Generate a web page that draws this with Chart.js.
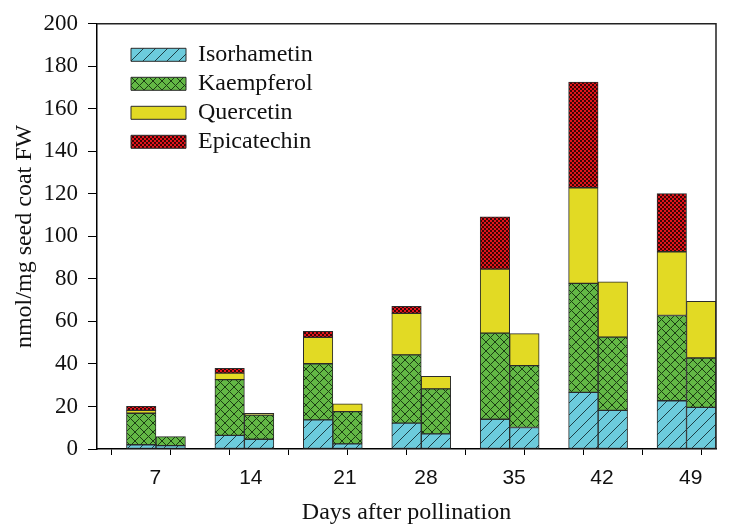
<!DOCTYPE html>
<html><head><meta charset="utf-8">
<script src="https://cdn.jsdelivr.net/npm/chart.js@4.4.1/dist/chart.umd.min.js"></script>
<style>html,body{margin:0;padding:0;background:#fff}#wrap{width:742px;height:527px}</style>
</head><body><div id="wrap"><canvas id="c" width="742" height="527"></canvas></div>
<script>
// ---- data ----
const days = ['7', '14', '21', '28', '35', '42', '49'];
const compounds = ['Isorhametin', 'Kaempferol', 'Quercetin', 'Epicatechin'];
// first bar of each pair
const isoA  = [2.0, 6.4, 13.7, 12.2, 14.0, 26.6, 22.7];
const kaemA = [14.8, 26.2, 26.4, 32.1, 40.5, 51.3, 40.1];
const querA = [1.4, 3.1, 12.4, 19.5, 30.1, 45.0, 30.0];
const epiA  = [1.9, 2.3, 2.8, 3.3, 24.6, 49.7, 27.3];
// second bar of each pair
const isoB  = [1.6, 4.6, 2.4, 7.1, 10.1, 18.2, 19.6];
const kaemB = [4.2, 11.3, 15.2, 21.2, 29.1, 34.4, 23.2];
const querB = [0, 0.9, 3.6, 5.9, 15.1, 26.0, 26.7];
// empty leading slot in each group
const spacer = [0, 0, 0, 0, 0, 0, 0];

// ---- patterns ----
const mainCtx = document.getElementById('c').getContext('2d');
function makePattern(size, draw) {
  const c = document.createElement('canvas');
  c.width = size; c.height = size;
  const g = c.getContext('2d');
  draw(g, size);
  return mainCtx.createPattern(c, 'repeat');
}
const isoPat = makePattern(12, (g, s) => {
  g.fillStyle = '#6ccbdc'; g.fillRect(0, 0, s, s);
  g.strokeStyle = '#1d3f46'; g.lineWidth = 1;
  g.beginPath();
  g.moveTo(0, s); g.lineTo(s, 0);
  g.moveTo(-1, 1); g.lineTo(1, -1);
  g.moveTo(s - 1, s + 1); g.lineTo(s + 1, s - 1);
  g.stroke();
});
const kaemPat = makePattern(9, (g, s) => {
  g.fillStyle = '#63b845'; g.fillRect(0, 0, s, s);
  g.strokeStyle = '#1b3d13'; g.lineWidth = 1;
  g.beginPath();
  g.moveTo(0, 0); g.lineTo(s, s);
  g.moveTo(0, s); g.lineTo(s, 0);
  g.stroke();
});
const querFill = '#e2da24';
const epiPat = makePattern(4, (g, s) => {
  g.fillStyle = '#e3141b'; g.fillRect(0, 0, s, s);
  g.fillStyle = '#3a0606';
  g.fillRect(0, 0, 2, 2); g.fillRect(2, 2, 2, 2);
});

function ds(label, data, stack, bg) {
  return { label, data, stack, backgroundColor: bg, borderColor: '#2b2b2b',
           borderWidth: 1, borderSkipped: false, xAxisID: 'x', yAxisID: 'y' };
}

const tickSlots = [0.5, 2.5, 4.5, 6.5, 8.5, 10.5, 12.5, 14.5, 16.5, 18.5, 20.5];
const labelAt = [1.98, 5.22, 8.41, 11.16, 14.15, 17.13, 20.14];

const legendShift = {
  id: 'legendShift',
  afterLayout(chart) {
    const lg = chart.legend, ca = chart.chartArea;
    if (!lg) return;
    lg.left = ca.left + 29; lg.top = ca.top + 14;
    lg.right = ca.right; lg.bottom = ca.bottom;
    lg.width = lg.right - lg.left; lg.height = lg.bottom - lg.top;
  }
};
const frame = {
  id: 'frame',
  afterDraw(chart) {
    const { ctx, chartArea: a } = chart;
    ctx.save();
    ctx.strokeStyle = '#222'; ctx.lineWidth = 1.5;
    ctx.beginPath();
    ctx.moveTo(a.left, a.top); ctx.lineTo(a.right, a.top); ctx.lineTo(a.right, a.bottom);
    ctx.stroke();
    ctx.restore();
  }
};

new Chart(mainCtx, {
  type: 'bar',
  data: {
    labels: days,
    datasets: [
      { label: '', data: spacer, stack: 's0', backgroundColor: 'rgba(0,0,0,0)', borderWidth: 0, xAxisID: 'x', yAxisID: 'y' },
      ds(compounds[0], isoA, 'a', isoPat),
      ds(compounds[1], kaemA, 'a', kaemPat),
      ds(compounds[2], querA, 'a', querFill),
      ds(compounds[3], epiA, 'a', epiPat),
      ds(compounds[0], isoB, 'b', isoPat),
      ds(compounds[1], kaemB, 'b', kaemPat),
      ds(compounds[2], querB, 'b', querFill)
    ]
  },
  options: {
    responsive: false,
    animation: false,
    devicePixelRatio: 1,
    layout: { padding: { top: 18, right: 26, left: 0, bottom: 0 } },
    datasets: { bar: { categoryPercentage: 1.0, barPercentage: 1.0 } },
    plugins: {
      tooltip: { enabled: false },
      legend: {
        position: 'chartArea',
        align: 'start',
        labels: {
          boxWidth: 55, boxHeight: 13, padding: 5, color: '#111',
          font: { family: 'Liberation Serif', size: 24 },
          filter: (item) => item.datasetIndex >= 1 && item.datasetIndex <= 4
        }
      }
    },
    scales: {
      x: { type: 'category', stacked: true, offset: true, display: false },
      y: {
        stacked: true, min: 0, max: 200, position: 'left',
        ticks: { stepSize: 20, color: '#111', padding: 10, font: { family: 'Liberation Serif', size: 23 } },
        grid: { drawOnChartArea: false, color: '#000', tickLength: 9, lineWidth: 1 },
        border: { color: '#000', width: 1.5 },
        title: { display: true, text: 'nmol/mg seed coat FW', color: '#111',
                 font: { family: 'Liberation Serif', size: 24 }, padding: { top: 10, bottom: 0 } },
        afterFit(s) { s.width = 97; }
      },
      xt: {
        type: 'linear', position: 'bottom', min: 0, max: 21, weight: 0,
        offset: false,
        afterBuildTicks(s) { s.ticks = tickSlots.map(v => ({ value: v })); },
        ticks: { display: false },
        grid: { offset: false, drawOnChartArea: false, color: '#000', tickLength: 6, lineWidth: 1 },
        border: { color: '#000', width: 1.5 },
        afterFit(s) { s.height = 6; }
      },
      xl: {
        type: 'linear', position: 'bottom', min: 0, max: 21, weight: 1,
        offset: false,
        afterBuildTicks(s) { s.ticks = labelAt.map(v => ({ value: v })); },
        ticks: { autoSkip: false, maxRotation: 0, padding: 3, color: '#111',
                 font: { family: 'Liberation Sans', size: 21 },
                 callback: (v, i) => days[i] },
        grid: { display: false, offset: false },
        border: { display: false },
        title: { display: true, text: 'Days after pollination', color: '#111',
                 font: { family: 'Liberation Serif', size: 24 }, padding: { top: 0, bottom: 0 } },
        afterFit(s) { s.height = 72; }
      }
    }
  },
  plugins: [legendShift, frame]
});
</script>
</body></html>
